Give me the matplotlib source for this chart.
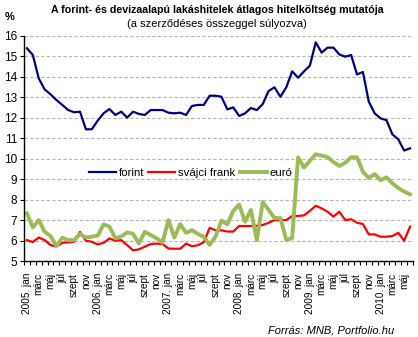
import matplotlib.pyplot as plt
import numpy as np

plt.rcParams['font.family'] = ['Liberation Sans', 'DejaVu Sans']

# havi adatok, 2005. jan - 2010. jún
forint = [15.40, 15.07, 13.93, 13.39, 13.15, 12.87, 12.63, 12.38, 12.27, 12.30,
          11.44, 11.44, 11.86, 12.22, 12.43, 12.14, 12.30, 12.01, 12.30, 12.19,
          12.14, 12.38, 12.38, 12.38, 12.25, 12.22, 12.25, 12.14, 12.58, 12.63,
          12.63, 13.08, 13.08, 13.03, 12.41, 12.51, 12.09, 12.22, 12.48, 12.38,
          12.67, 13.31, 13.49, 13.03, 13.49, 14.27, 13.96, 14.27, 14.55, 15.69,
          15.19, 15.43, 15.43, 15.10, 14.99, 15.07, 14.12, 14.24, 12.79, 12.22,
          11.97, 11.89, 11.19, 10.95, 10.40, 10.51]
frank = [6.02, 5.93, 6.15, 6.02, 5.78, 5.70, 5.89, 5.91, 5.94, 6.42,
         5.99, 5.94, 5.81, 5.89, 6.10, 5.99, 6.02, 5.78, 5.52, 5.57,
         5.70, 5.83, 5.85, 5.83, 5.61, 5.60, 5.60, 5.85, 5.72, 5.77,
         5.92, 6.62, 6.50, 6.50, 6.44, 6.44, 6.71, 6.71, 6.71, 6.72,
         6.76, 6.87, 7.00, 7.00, 7.00, 7.20, 7.20, 7.23, 7.45, 7.70,
         7.57, 7.41, 7.17, 7.41, 7.00, 7.04, 6.87, 6.81, 6.30, 6.30,
         6.19, 6.19, 6.22, 6.38, 5.99, 6.68]
euro = [7.33, 6.64, 7.00, 6.43, 6.22, 5.73, 6.14, 6.02, 6.02, 6.32,
        6.15, 6.19, 6.24, 6.79, 6.68, 6.11, 6.20, 6.40, 6.33, 5.86,
        6.43, 6.27, 6.11, 5.90, 7.00, 6.15, 6.80, 6.38, 6.51, 6.32,
        6.18, 5.79, 6.20, 6.97, 6.79, 7.45, 7.76, 6.92, 7.49, 6.02,
        7.88, 7.50, 7.10, 7.10, 6.03, 6.12, 10.07, 9.57, 9.90, 10.22,
        10.15, 10.08, 9.84, 9.65, 9.80, 10.07, 10.07, 9.36, 9.06, 9.25,
        8.95, 9.09, 8.80, 8.57, 8.39, 8.26]

years = [2005, 2006, 2007, 2008, 2009, 2010]
months = ['jan', 'febr', 'márc', 'ápr', 'máj', 'jún',
          'júl', 'aug', 'szept', 'okt', 'nov', 'dec']

labels = []
for y in years:
    for m_i, m in enumerate(months):
        labels.append(f"{y}. {m}" if m_i == 0 else m)
labels = labels[:len(forint)]

x = np.arange(len(forint))

fig = plt.figure(figsize=(4.18, 3.37), dpi=100)
ax = fig.add_axes([24 / 418, 76 / 337, 389 / 418, 225 / 337])

ax.plot(x, forint, color='#000080', lw=1.6, label='forint')
ax.plot(x, frank, color='#ff0000', lw=1.6, label='svájci frank')
ax.plot(x, euro, color='#9bbb59', lw=2.8, label='euró')

ax.set_xlim(-0.5, len(x) - 0.5)
ax.set_ylim(5, 16)
ax.set_yticks(range(5, 17))
ax.tick_params(axis='y', labelsize=8.5, length=3, width=0.8, pad=2)
ax.yaxis.grid(True, color='#b4b4b4', ls=(0, (3, 2)), lw=0.8)
ax.set_axisbelow(True)

# kis osztások a kategóriahatárokon, felirat minden második hónapnál
ax.set_xticks(np.arange(-0.5, len(x), 1), minor=True)
ax.set_xticks(x[::2])
ax.set_xticklabels(labels[::2], rotation=90, fontsize=7.2)
ax.tick_params(axis='x', which='major', length=0, pad=8.5)
ax.tick_params(axis='x', which='minor', length=3, width=0.8)

for s in ['top', 'right']:
    ax.spines[s].set_visible(False)
for s in ['left', 'bottom']:
    ax.spines[s].set_linewidth(1.0)

ax.legend(loc='center left', bbox_to_anchor=(0.167, 0.391), ncol=3,
          frameon=False, fontsize=8.2, handlelength=2.37, handletextpad=0.26,
          columnspacing=0.35, borderaxespad=0, borderpad=0)

fig.text(0.52, 0.97, 'A forint- és devizaalapú lakáshitelek átlagos hitelköltség mutatója',
         ha='center', va='center', fontsize=7.7, fontweight='bold')
fig.text(0.52, 0.93, '(a szerződéses összeggel súlyozva)',
         ha='center', va='center', fontsize=8)
fig.text(0.012, 0.95, '%', ha='left', va='center', fontsize=8, fontweight='bold')
fig.text(0.942, 0.02, 'Forrás: MNB, Portfolio.hu', ha='right', va='center',
         fontsize=8, style='italic')

fig.savefig('out.png', dpi=100)
